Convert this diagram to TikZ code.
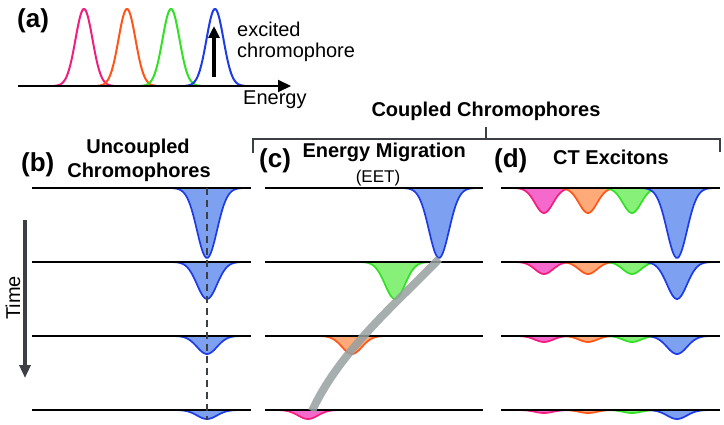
\documentclass[tikz,border=0pt]{standalone}
\usepackage{fontspec}
\setmainfont{Liberation Sans}
\usepackage{xcolor}
\definecolor{cpink}{RGB}{240,30,125}
\definecolor{corange}{RGB}{255,85,25}
\definecolor{cgreen}{RGB}{50,225,35}
\definecolor{cblue}{RGB}{30,60,230}
\definecolor{cpinkfill}{RGB}{245,105,205}
\definecolor{corangefill}{RGB}{255,170,120}
\definecolor{cgreenfill}{RGB}{135,240,120}
\definecolor{cbluefill}{RGB}{125,160,240}
\definecolor{darkline}{RGB}{60,64,68}
\definecolor{pathgray}{RGB}{150,160,160}
\usetikzlibrary{arrows.meta}

% one filled dip below a baseline: baseline y, centre x, depth, colour, sigma
\newcommand{\dipcurve}[5]{%
  \pgfmathsetmacro\dipl{#2-3.6*#5}%
  \pgfmathsetmacro\dipr{#2+3.6*#5}%
  \fill[#4fill] plot[domain=\dipl:\dipr, samples=50] (\x,{#1+#3*exp(-((\x-#2)/#5)^2/2)}) -- cycle;
  \draw[#4, curve] plot[domain=\dipl:\dipr, samples=50] (\x,{#1+#3*exp(-((\x-#2)/#5)^2/2)});
}

\begin{document}
\begin{tikzpicture}[x=1pt, y=-1pt, >=Stealth]
\tikzset{
  curve/.style={line width=1.7pt},
  baseline/.style={line width=2pt, black},
  ttl/.style={font=\fontsize{20}{24}\selectfont\bfseries},
  lbl/.style={font=\fontsize{26}{30}\selectfont\bfseries, inner sep=0pt},
  txt/.style={font=\fontsize{20}{24}\selectfont, inner sep=0pt}
}
\useasboundingbox (0,0) rectangle (724,425);

% (a) spectra
\foreach \c/\col in {84/cpink, 127/corange, 171/cgreen, 215/cblue} {
  \pgfmathsetmacro\al{\c-30}
  \pgfmathsetmacro\ar{\c+30}
  \draw[\col, line width=2pt] plot[domain=\al:\ar, samples=70] (\x,{86-77*exp(-((\x-\c)/8.5)^2/2)});
}
\coordinate (axs) at (18,86);
\coordinate (axe) at (291,86);
\draw[line width=2pt, -{Triangle[length=13pt, width=12pt]}] (axs) -- (axe);
\coordinate (exs) at (214,77);
\coordinate (exe) at (214,26);
\draw[line width=3.2pt, -{Triangle[length=12pt, width=11pt]}] (exs) -- (exe);
\node[lbl, anchor=base west] (la) at (17,28) {(a)};
\node[txt, anchor=base west] (exc1) at (237,37) {excited};
\node[txt, anchor=base west] (exc2) at (237,58) {chromophore};
\node[txt, anchor=base west] (energy) at (243,105) {Energy};

% bracket over coupled panels
\draw[darkline, line width=1.2pt] (253,153) -- (253,139) -- (720,139) -- (720,152);
\draw[darkline, line width=1.2pt] (486,139) -- (486,127);
\node[ttl, anchor=base] (coupled) at (486,117) {Coupled Chromophores};

% (b) uncoupled
\node[lbl, anchor=base west] (lb) at (21,172) {(b)};
\node[ttl, anchor=base] (unc1) at (138,154) {Uncoupled};
\node[ttl, anchor=base] (unc2) at (139,178) {Chromophores};
\foreach \y/\d in {188/70, 262/37, 336/18, 410/9} {
  \dipcurve{\y}{207}{\d}{cblue}{10}
  \draw[baseline] (32,\y) -- (251,\y);
}
\draw[darkline, line width=1.4pt, dash pattern=on 7pt off 5pt] (207,188) -- (207,420);
\coordinate (ts) at (25,220);
\coordinate (te) at (25,378);
\draw[darkline, line width=3.2pt, -{Triangle[length=13pt, width=11pt]}] (ts) -- (te);
\node[txt, rotate=90] (time) at (13,298) {Time};

% (c) energy migration
\node[lbl, anchor=base west] (lc) at (259,168) {(c)};
\node[ttl, anchor=base west] (mig) at (299,158) {Energy Migration};
\node[txt, font=\fontsize{17}{20}\selectfont, anchor=base] (eet) at (378,183) {(EET)};
\foreach \y/\d/\c/\col in {188/70/439/cblue, 262/37/395/cgreen, 336/18/352/corange, 410/9/308/cpink} {
  \dipcurve{\y}{\c}{\d}{\col}{10}
  \draw[baseline] (265,\y) -- (483,\y);
}
\draw[pathgray, line width=8pt, opacity=0.85] (439,259) .. controls (400,300) and (340,350) .. (312,411);

% (d) CT excitons
\node[lbl, anchor=base west] (ld) at (494,168) {(d)};
\node[ttl, anchor=base] (ct) at (611,165) {CT Excitons};
\foreach \y/\d/\s in {188/70/25, 262/37/12, 336/18/6, 410/9/3} {
  \dipcurve{\y}{544}{\s}{cpink}{9}
  \dipcurve{\y}{588}{\s}{corange}{9}
  \dipcurve{\y}{632}{\s}{cgreen}{9}
  \dipcurve{\y}{677}{\d}{cblue}{10}
  \draw[baseline] (501,\y) -- (720,\y);
}
\end{tikzpicture}
\end{document}
